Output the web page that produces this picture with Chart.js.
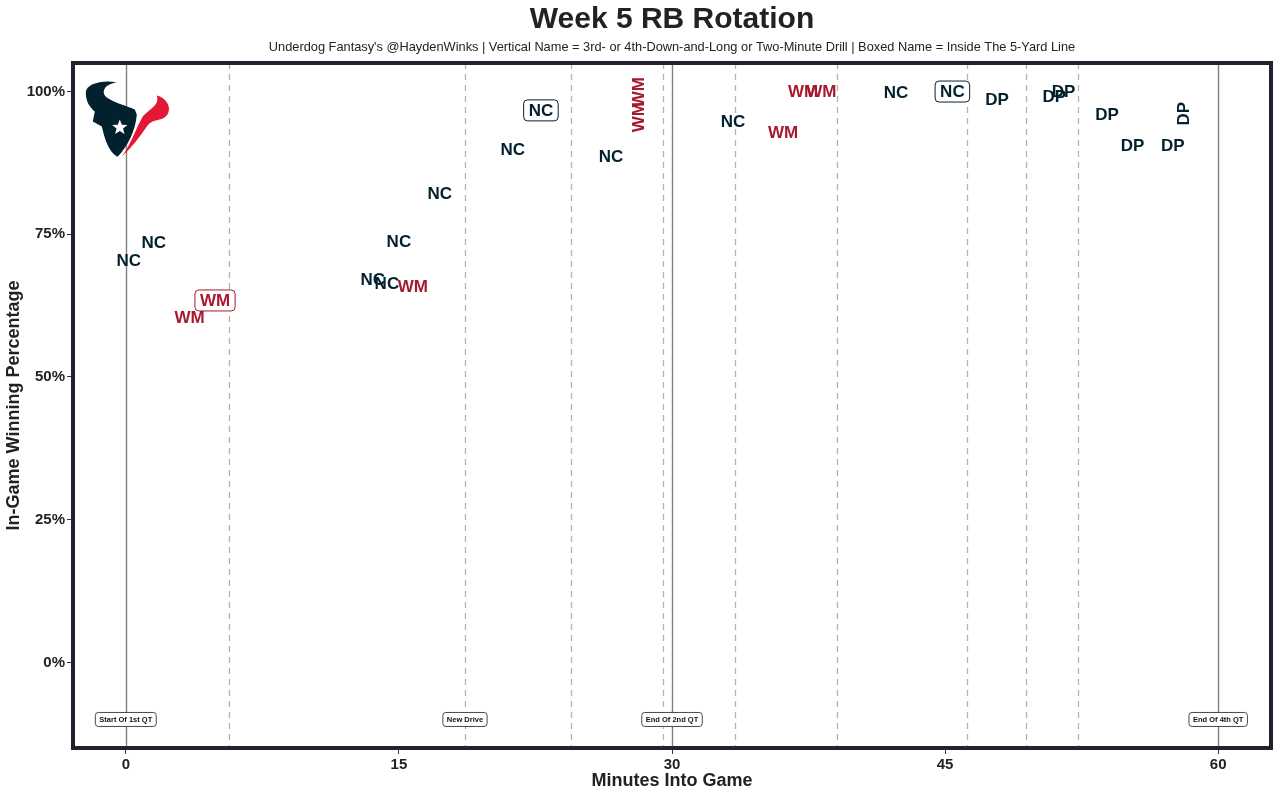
<!DOCTYPE html>
<html>
<head>
<meta charset="utf-8">
<title>Week 5 RB Rotation</title>
<script src="https://cdn.jsdelivr.net/npm/chart.js@4.4.1/dist/chart.umd.min.js"></script>
<style>
    html, body { margin: 0; padding: 0; background: #ffffff; }
    #wrap { width: 1280px; height: 799px; }
</style>
</head>
<body>
<div id="wrap"><canvas id="rbChart" width="1280" height="799"></canvas></div>
<script>
// Snaps: minute of game, win probability, rusher, vertical name, boxed name
const playMinutes = [0.16, 1.54, 3.5, 4.9, 13.57, 14.34, 15.77, 15.0, 17.25, 21.26, 22.8, 26.65, 28.13, 28.13,
    33.35, 36.1, 37.2, 38.2, 42.3, 45.4, 47.85, 51.0, 51.5, 53.9, 55.3, 57.5, 58.1];
const playWinPct = [70.4, 73.6, 60.4, 63.4, 67.1, 66.4, 65.8, 73.7, 82.1, 89.8, 96.7, 88.6, 99.9, 95.5,
    94.7, 92.8, 100, 100, 99.8, 100, 98.6, 99.1, 100, 96.0, 90.5, 90.5, 96.1];
const playRusher = ["NC", "NC", "WM", "WM", "NC", "NC", "WM", "NC", "NC", "NC", "NC", "NC", "WM", "WM",
    "NC", "WM", "WM", "WM", "NC", "NC", "DP", "DP", "DP", "DP", "DP", "DP", "DP"];
const playVertical = [0, 0, 0, 0, 0, 0, 0, 0, 0, 0, 0, 0, 1, 1, 0, 0, 0, 0, 0, 0, 0, 0, 0, 0, 0, 0, 1];
const playBoxed = [0, 0, 0, 1, 0, 0, 0, 0, 0, 0, 1, 0, 0, 0, 0, 0, 0, 0, 0, 1, 0, 0, 0, 0, 0, 0, 0];

const rushers = ["NC", "WM", "DP"];
const rusherColors = { NC: "#03202F", WM: "#A6192E", DP: "#03202F" };

// Game events
const quarterMinutes = [0, 30, 60];
const driveMinutes = [5.66, 18.63, 24.45, 29.51, 33.46, 39.07, 46.21, 49.45, 52.31];
const eventLabels = ["Start Of 1st QT", "New Drive", "End Of 2nd QT", "End Of 4th QT"];
const eventMinutes = [0, 18.63, 30, 60];
const eventWinPct = -10;

// Axes
const xTicks = [0, 15, 30, 45, 60];
const yTicks = [0, 25, 50, 75, 100];

const FONT = "'Liberation Sans', Arial, Helvetica, sans-serif";

// ✅ Build one scatter dataset per running back
function buildDatasets() {
    return rushers.map(rb => {
        const pts = [];
        for (let i = 0; i < playMinutes.length; i++) {
            if (playRusher[i] !== rb) continue;
            pts.push({ x: playMinutes[i], y: playWinPct[i], vertical: !!playVertical[i], boxed: !!playBoxed[i] });
        }
        return { label: rb, data: pts, pointRadius: 0, pointHoverRadius: 0, showLine: false, color: rusherColors[rb] };
    });
}

function roundRect(ctx, x, y, w, h, r) {
    ctx.beginPath();
    ctx.moveTo(x + r, y);
    ctx.lineTo(x + w - r, y);
    ctx.quadraticCurveTo(x + w, y, x + w, y + r);
    ctx.lineTo(x + w, y + h - r);
    ctx.quadraticCurveTo(x + w, y + h, x + w - r, y + h);
    ctx.lineTo(x + r, y + h);
    ctx.quadraticCurveTo(x, y + h, x, y + h - r);
    ctx.lineTo(x, y + r);
    ctx.quadraticCurveTo(x, y, x + r, y);
    ctx.closePath();
}

// Texans logo, drawn relative to the (0 min, 100%) point
function drawLogo(ctx, ax, ay) {
    ctx.save();
    ctx.translate(ax, ay);
    // navy half
    ctx.fillStyle = "#03202F";
    ctx.beginPath();
    ctx.moveTo(-9, -9);
    ctx.bezierCurveTo(-22, -12, -40, -8, -40, 1);
    ctx.bezierCurveTo(-40, 10, -36, 16, -31, 20);
    ctx.lineTo(-33, 30);
    ctx.lineTo(-24, 35);
    ctx.bezierCurveTo(-21, 48, -17, 60, -9, 65);
    ctx.lineTo(-8, 65);
    ctx.bezierCurveTo(2, 55, 10, 38, 11, 23);
    ctx.lineTo(9, 18);
    ctx.bezierCurveTo(0, 14, -12, 11, -19, 6);
    ctx.bezierCurveTo(-26, 0, -20, -8, -9, -9);
    ctx.closePath();
    ctx.fill();
    // red half
    ctx.fillStyle = "#E31837";
    ctx.beginPath();
    ctx.moveTo(-4, 65);
    ctx.bezierCurveTo(4, 55, 11, 35, 17, 25);
    ctx.bezierCurveTo(24, 17, 34, 14, 31, 4);
    ctx.bezierCurveTo(40, 6, 47, 16, 41, 24);
    ctx.bezierCurveTo(36, 30, 26, 27, 21, 35);
    ctx.bezierCurveTo(14, 45, 6, 56, -4, 65);
    ctx.closePath();
    ctx.fill();
    // star
    ctx.fillStyle = "#ffffff";
    ctx.beginPath();
    for (let k = 0; k < 10; k++) {
        const r = k % 2 === 0 ? 8 : 3.4;
        const a = -Math.PI / 2 + k * Math.PI / 5;
        const px = -6 + r * Math.cos(a), py = 36 + r * Math.sin(a);
        if (k === 0) ctx.moveTo(px, py); else ctx.lineTo(px, py);
    }
    ctx.closePath();
    ctx.fill();
    ctx.restore();
}

// ✅ Plugin: quarter/drive lines, event boxes, names, frame and titles
const rotationPlugin = {
    id: "rotation",
    beforeDatasetsDraw(chart) {
        const { ctx, chartArea: a, scales: { x, y } } = chart;
        ctx.save();
        ctx.beginPath();
        ctx.rect(a.left, a.top, a.right - a.left, a.bottom - a.top);
        ctx.clip();

        ctx.strokeStyle = "#b3b3b3";
        ctx.lineWidth = 1.3;
        ctx.setLineDash([6, 5]);
        driveMinutes.forEach(m => {
            const px = Math.round(x.getPixelForValue(m)) + 0.5;
            ctx.beginPath(); ctx.moveTo(px, a.top); ctx.lineTo(px, a.bottom); ctx.stroke();
        });
        ctx.setLineDash([]);
        ctx.strokeStyle = "#808080";
        ctx.lineWidth = 1.4;
        quarterMinutes.forEach(m => {
            const px = Math.round(x.getPixelForValue(m)) + 0.5;
            ctx.beginPath(); ctx.moveTo(px, a.top); ctx.lineTo(px, a.bottom); ctx.stroke();
        });

        drawLogo(ctx, x.getPixelForValue(0), y.getPixelForValue(100));

        // event boxes
        ctx.font = "bold 7.5px " + FONT;
        ctx.textAlign = "center";
        ctx.textBaseline = "middle";
        eventLabels.forEach((txt, i) => {
            const cx = x.getPixelForValue(eventMinutes[i]);
            const cy = y.getPixelForValue(eventWinPct);
            const w = ctx.measureText(txt).width + 8;
            const h = 14;
            roundRect(ctx, cx - w / 2, cy - h / 2, w, h, 3);
            ctx.fillStyle = "#ffffff";
            ctx.fill();
            ctx.strokeStyle = "#333333";
            ctx.lineWidth = 0.9;
            ctx.stroke();
            ctx.fillStyle = "#111111";
            ctx.fillText(txt, cx, cy + 0.5);
        });
        ctx.restore();
    },
    afterDatasetsDraw(chart) {
        const { ctx, chartArea: a } = chart;
        ctx.save();
        ctx.font = "bold 17px " + FONT;
        ctx.textAlign = "center";
        ctx.textBaseline = "middle";
        chart.data.datasets.forEach((ds, di) => {
            const meta = chart.getDatasetMeta(di);
            meta.data.forEach((el, j) => {
                const p = ds.data[j];
                ctx.save();
                ctx.translate(el.x, el.y);
                if (p.vertical) ctx.rotate(-Math.PI / 2);
                if (p.boxed) {
                    const w = ctx.measureText(ds.label).width + 10;
                    const h = 21;
                    roundRect(ctx, -w / 2, -h / 2, w, h, 4);
                    ctx.fillStyle = "#ffffff";
                    ctx.fill();
                    ctx.strokeStyle = ds.color;
                    ctx.lineWidth = 1;
                    ctx.stroke();
                }
                ctx.fillStyle = ds.color;
                ctx.fillText(ds.label, 0, 1);
                ctx.restore();
            });
        });

        // frame
        ctx.strokeStyle = "#1f2430";
        ctx.lineWidth = 4;
        ctx.strokeRect(a.left, a.top, a.right - a.left, a.bottom - a.top);

        // titles
        const mid = (a.left + a.right) / 2;
        ctx.fillStyle = "#222222";
        ctx.font = "bold 30px " + FONT;
        ctx.fillText("Week 5 RB Rotation", mid, 20);
        ctx.font = "12.8px " + FONT;
        ctx.fillText("Underdog Fantasy's @HaydenWinks | Vertical Name = 3rd- or 4th-Down-and-Long or Two-Minute Drill | Boxed Name = Inside The 5-Yard Line", mid, 47);
        ctx.font = "bold 18px " + FONT;
        ctx.fillText("Minutes Into Game", mid, 781);
        ctx.save();
        ctx.translate(14, (a.top + a.bottom) / 2);
        ctx.rotate(-Math.PI / 2);
        ctx.fillText("In-Game Winning Percentage", 0, 0);
        ctx.restore();
        ctx.restore();
    }
};

function populateChart() {
    const ctx = document.getElementById("rbChart").getContext("2d");
    new Chart(ctx, {
        type: "scatter",
        data: { datasets: buildDatasets() },
        options: {
            responsive: false,
            animation: false,
            layout: { padding: { top: 63, right: 9, left: 0, bottom: 0 } },
            plugins: { legend: { display: false }, tooltip: { enabled: false } },
            scales: {
                x: {
                    type: "linear",
                    min: -2.9,
                    max: 62.9,
                    afterBuildTicks: s => { s.ticks = xTicks.map(v => ({ value: v })); },
                    afterFit: s => { s.height = 51; },
                    border: { display: false },
                    grid: { drawOnChartArea: false, drawTicks: true, tickLength: 6, color: "#333333", lineWidth: 1 },
                    ticks: { color: "#222222", padding: 2, font: { family: FONT, size: 15, weight: "bold" } }
                },
                y: {
                    type: "linear",
                    min: -15,
                    max: 105,
                    afterBuildTicks: s => { s.ticks = yTicks.map(v => ({ value: v })); },
                    afterFit: s => { s.width = 73; },
                    border: { display: false },
                    grid: { drawOnChartArea: false, drawTicks: true, tickLength: 6, color: "#333333", lineWidth: 1 },
                    ticks: { color: "#222222", padding: 2, font: { family: FONT, size: 15, weight: "bold" }, callback: v => v + "%" }
                }
            }
        },
        plugins: [rotationPlugin]
    });
}

populateChart();
</script>
</body>
</html>
